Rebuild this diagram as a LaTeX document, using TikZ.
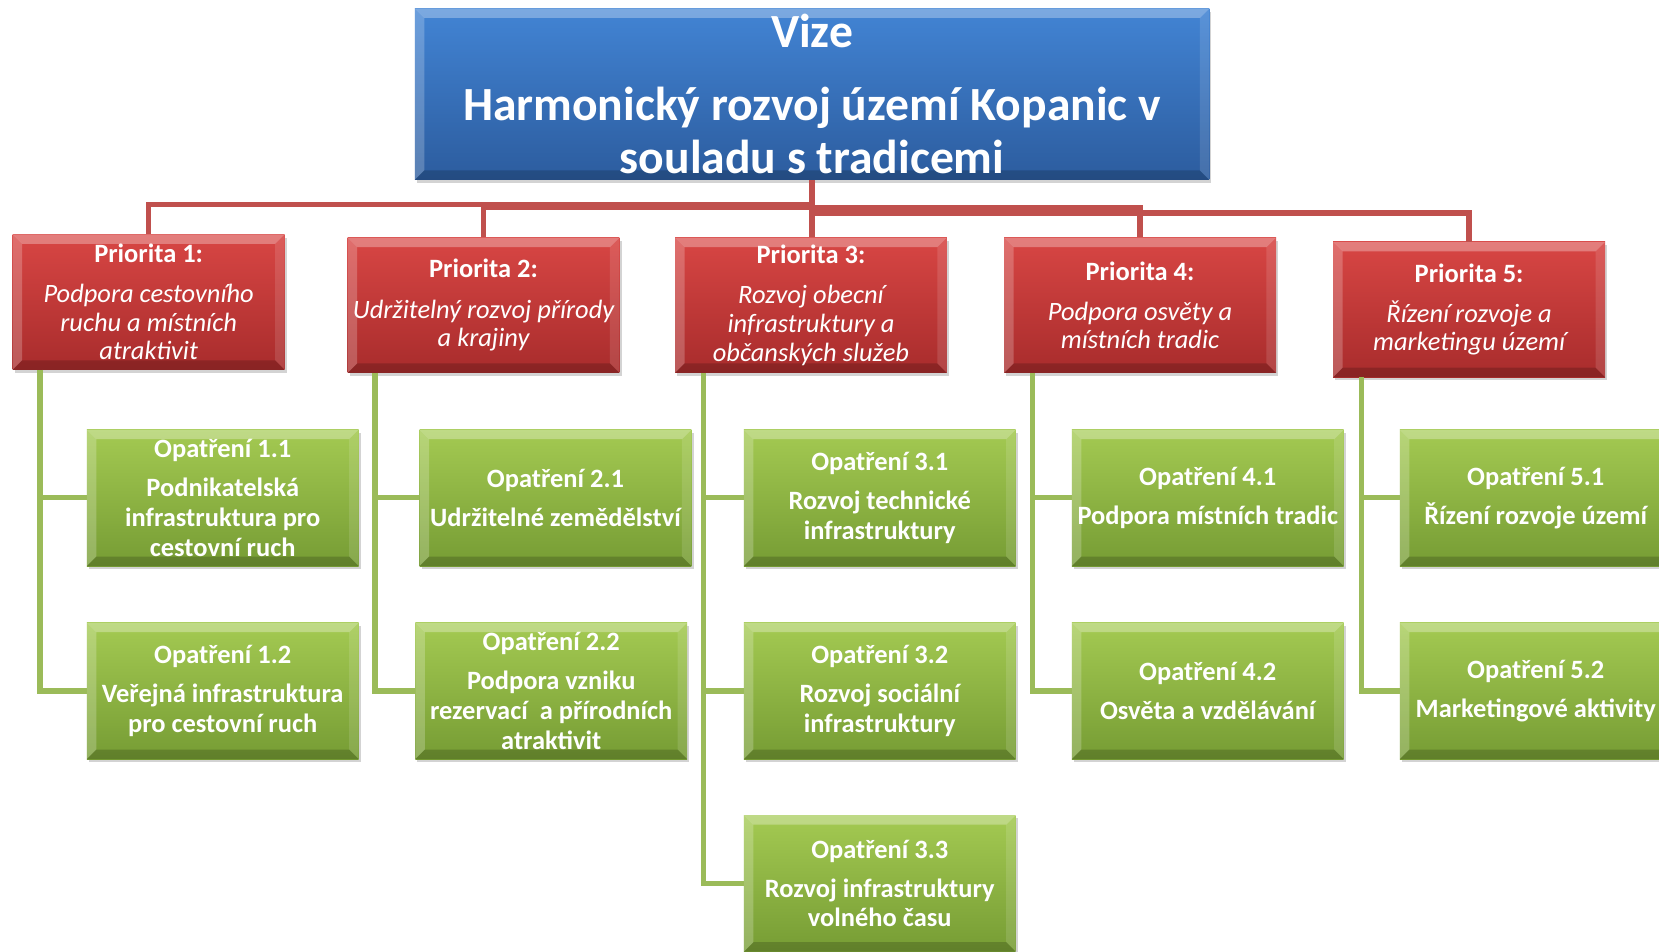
\documentclass[tikz,border=0pt]{standalone}
\usepackage{fontspec}
\setmainfont{Carlito}
\usetikzlibrary{shadows}
\definecolor{bluetop}{RGB}{66,132,212}
\definecolor{bluebot}{RGB}{44,92,158}
\definecolor{redtop}{RGB}{216,70,68}
\definecolor{redbot}{RGB}{168,44,44}
\definecolor{greentop}{RGB}{164,202,82}
\definecolor{greenbot}{RGB}{118,156,52}
\definecolor{redline}{RGB}{192,80,77}
\definecolor{greenline}{RGB}{155,187,89}
\tikzset{
  bevel/.style={path picture={
    \fill[white,opacity=.30] (path picture bounding box.north west) -- (path picture bounding box.north east)
      -- ([shift={(-9pt,-9pt)}]path picture bounding box.north east) -- ([shift={(9pt,-9pt)}]path picture bounding box.north west) -- cycle;
    \fill[white,opacity=.22] (path picture bounding box.north west) -- ([shift={(9pt,-9pt)}]path picture bounding box.north west)
      -- ([shift={(9pt,9pt)}]path picture bounding box.south west) -- (path picture bounding box.south west) -- cycle;
    \fill[white,opacity=.12] (path picture bounding box.north east) -- ([shift={(-9pt,-9pt)}]path picture bounding box.north east)
      -- ([shift={(-9pt,9pt)}]path picture bounding box.south east) -- (path picture bounding box.south east) -- cycle;
    \fill[black,opacity=.18] (path picture bounding box.south west) -- ([shift={(9pt,9pt)}]path picture bounding box.south west)
      -- ([shift={(-9pt,9pt)}]path picture bounding box.south east) -- (path picture bounding box.south east) -- cycle;
  }},
  box/.style={bevel, inner sep=0pt, align=center, text=white,
    drop shadow={shadow xshift=2pt, shadow yshift=-3pt, opacity=.35}},
  visionbox/.style={box, top color=bluetop, bottom color=bluebot, minimum width=751pt, minimum height=162pt,
    font=\bfseries\fontsize{45}{50}\selectfont},
  prioritybox/.style={box, top color=redtop, bottom color=redbot, minimum width=257pt, minimum height=128pt,
    font=\fontsize{25}{27}\selectfont},
  measurebox/.style={box, top color=greentop, bottom color=greenbot, minimum width=257pt, minimum height=129pt,
    font=\bfseries\fontsize{25}{28}\selectfont},
  redconn/.style={draw=redline, line width=5pt},
  greenconn/.style={draw=greenline, line width=5pt},
}
\begin{document}
\begin{tikzpicture}[x=1pt,y=-1pt]
\useasboundingbox (0,0) rectangle (1568,899);
\clip (0,0) rectangle (1568,899);

\node[visionbox] (vize) at (767.5,89) {Vize\\[19pt]Harmonický rozvoj území Kopanic v\\souladu s tradicemi};

\node[prioritybox] (p1) at (140.5,285.5) {\textbf{Priorita 1:}\\[11pt]\itshape Podpora cestovního\\\itshape ruchu a místních\\\itshape atraktivit};
\node[prioritybox] (p2) at (457,288.5) {\textbf{Priorita 2:}\\[11pt]\itshape Udržitelný rozvoj přírody\\\itshape a krajiny};
\node[prioritybox] (p3) at (766.5,288.5) {\textbf{Priorita 3:}\\[11pt]\itshape Rozvoj obecní\\\itshape infrastruktury a\\\itshape občanských služeb};
\node[prioritybox] (p4) at (1077.5,288.5) {\textbf{Priorita 4:}\\[11pt]\itshape Podpora osvěty a\\\itshape místních tradic};
\node[prioritybox] (p5) at (1388.5,292.5) {\textbf{Priorita 5:}\\[11pt]\itshape Řízení rozvoje a\\\itshape marketingu území};

\node[measurebox] (m11) at (210.5,470.5) {Opatření 1.1\\[9pt]Podnikatelská\\infrastruktura pro\\cestovní ruch};
\node[measurebox] (m12) at (210.5,653) {Opatření 1.2\\[9pt]Veřejná infrastruktura\\pro cestovní ruch};
\node[measurebox] (m21) at (525,470.5) {Opatření 2.1\\[9pt]Udržitelné zemědělství};
\node[measurebox] (m22) at (521,653) {Opatření 2.2\\[9pt]Podpora vzniku\\rezervací~ a přírodních\\atraktivit};
\node[measurebox] (m31) at (831.5,470.5) {Opatření 3.1\\[9pt]Rozvoj technické\\infrastruktury};
\node[measurebox] (m32) at (831.5,653) {Opatření 3.2\\[9pt]Rozvoj sociální\\infrastruktury};
\node[measurebox] (m33) at (831.5,835) {Opatření 3.3\\[9pt]Rozvoj infrastruktury\\volného času};
\node[measurebox] (m41) at (1141.5,470.5) {Opatření 4.1\\[9pt]Podpora místních tradic};
\node[measurebox] (m42) at (1141.5,653) {Opatření 4.2\\[9pt]Osvěta a vzdělávání};
\node[measurebox] (m51) at (1451.5,470.5) {Opatření 5.1\\[9pt]Řízení rozvoje území};
\node[measurebox] (m52) at (1451.5,653) {Opatření 5.2\\[9pt]Marketingové aktivity};

% red connectors
\draw[redconn] (vize.south) -- ++(0,23) -| (p1.north);
\draw[redconn] (vize.south) -- ++(0,26) -| (p2.north);
\draw[redconn] (vize.south) -- (vize.south |- p3.north);
\draw[redconn] (vize.south) -- ++(0,26) -| (p4.north);
\draw[redconn] (vize.south) -- ++(0,31) -| (p5.north);

% green connectors
\draw[greenconn] ([xshift=26pt]p1.south west) |- (m11.west);
\draw[greenconn] ([xshift=26pt]p1.south west) |- (m12.west);
\draw[greenconn] ([xshift=26pt]p2.south west) |- (m21.west);
\draw[greenconn] ([xshift=26pt]p2.south west) |- (m22.west);
\draw[greenconn] ([xshift=27pt]p3.south west) |- (m31.west);
\draw[greenconn] ([xshift=27pt]p3.south west) |- (m32.west);
\draw[greenconn] ([xshift=27pt]p3.south west) |- (m33.west);
\draw[greenconn] ([xshift=27pt]p4.south west) |- (m41.west);
\draw[greenconn] ([xshift=27pt]p4.south west) |- (m42.west);
\draw[greenconn] ([xshift=27pt]p5.south west) |- (m51.west);
\draw[greenconn] ([xshift=27pt]p5.south west) |- (m52.west);
\end{tikzpicture}
\end{document}
